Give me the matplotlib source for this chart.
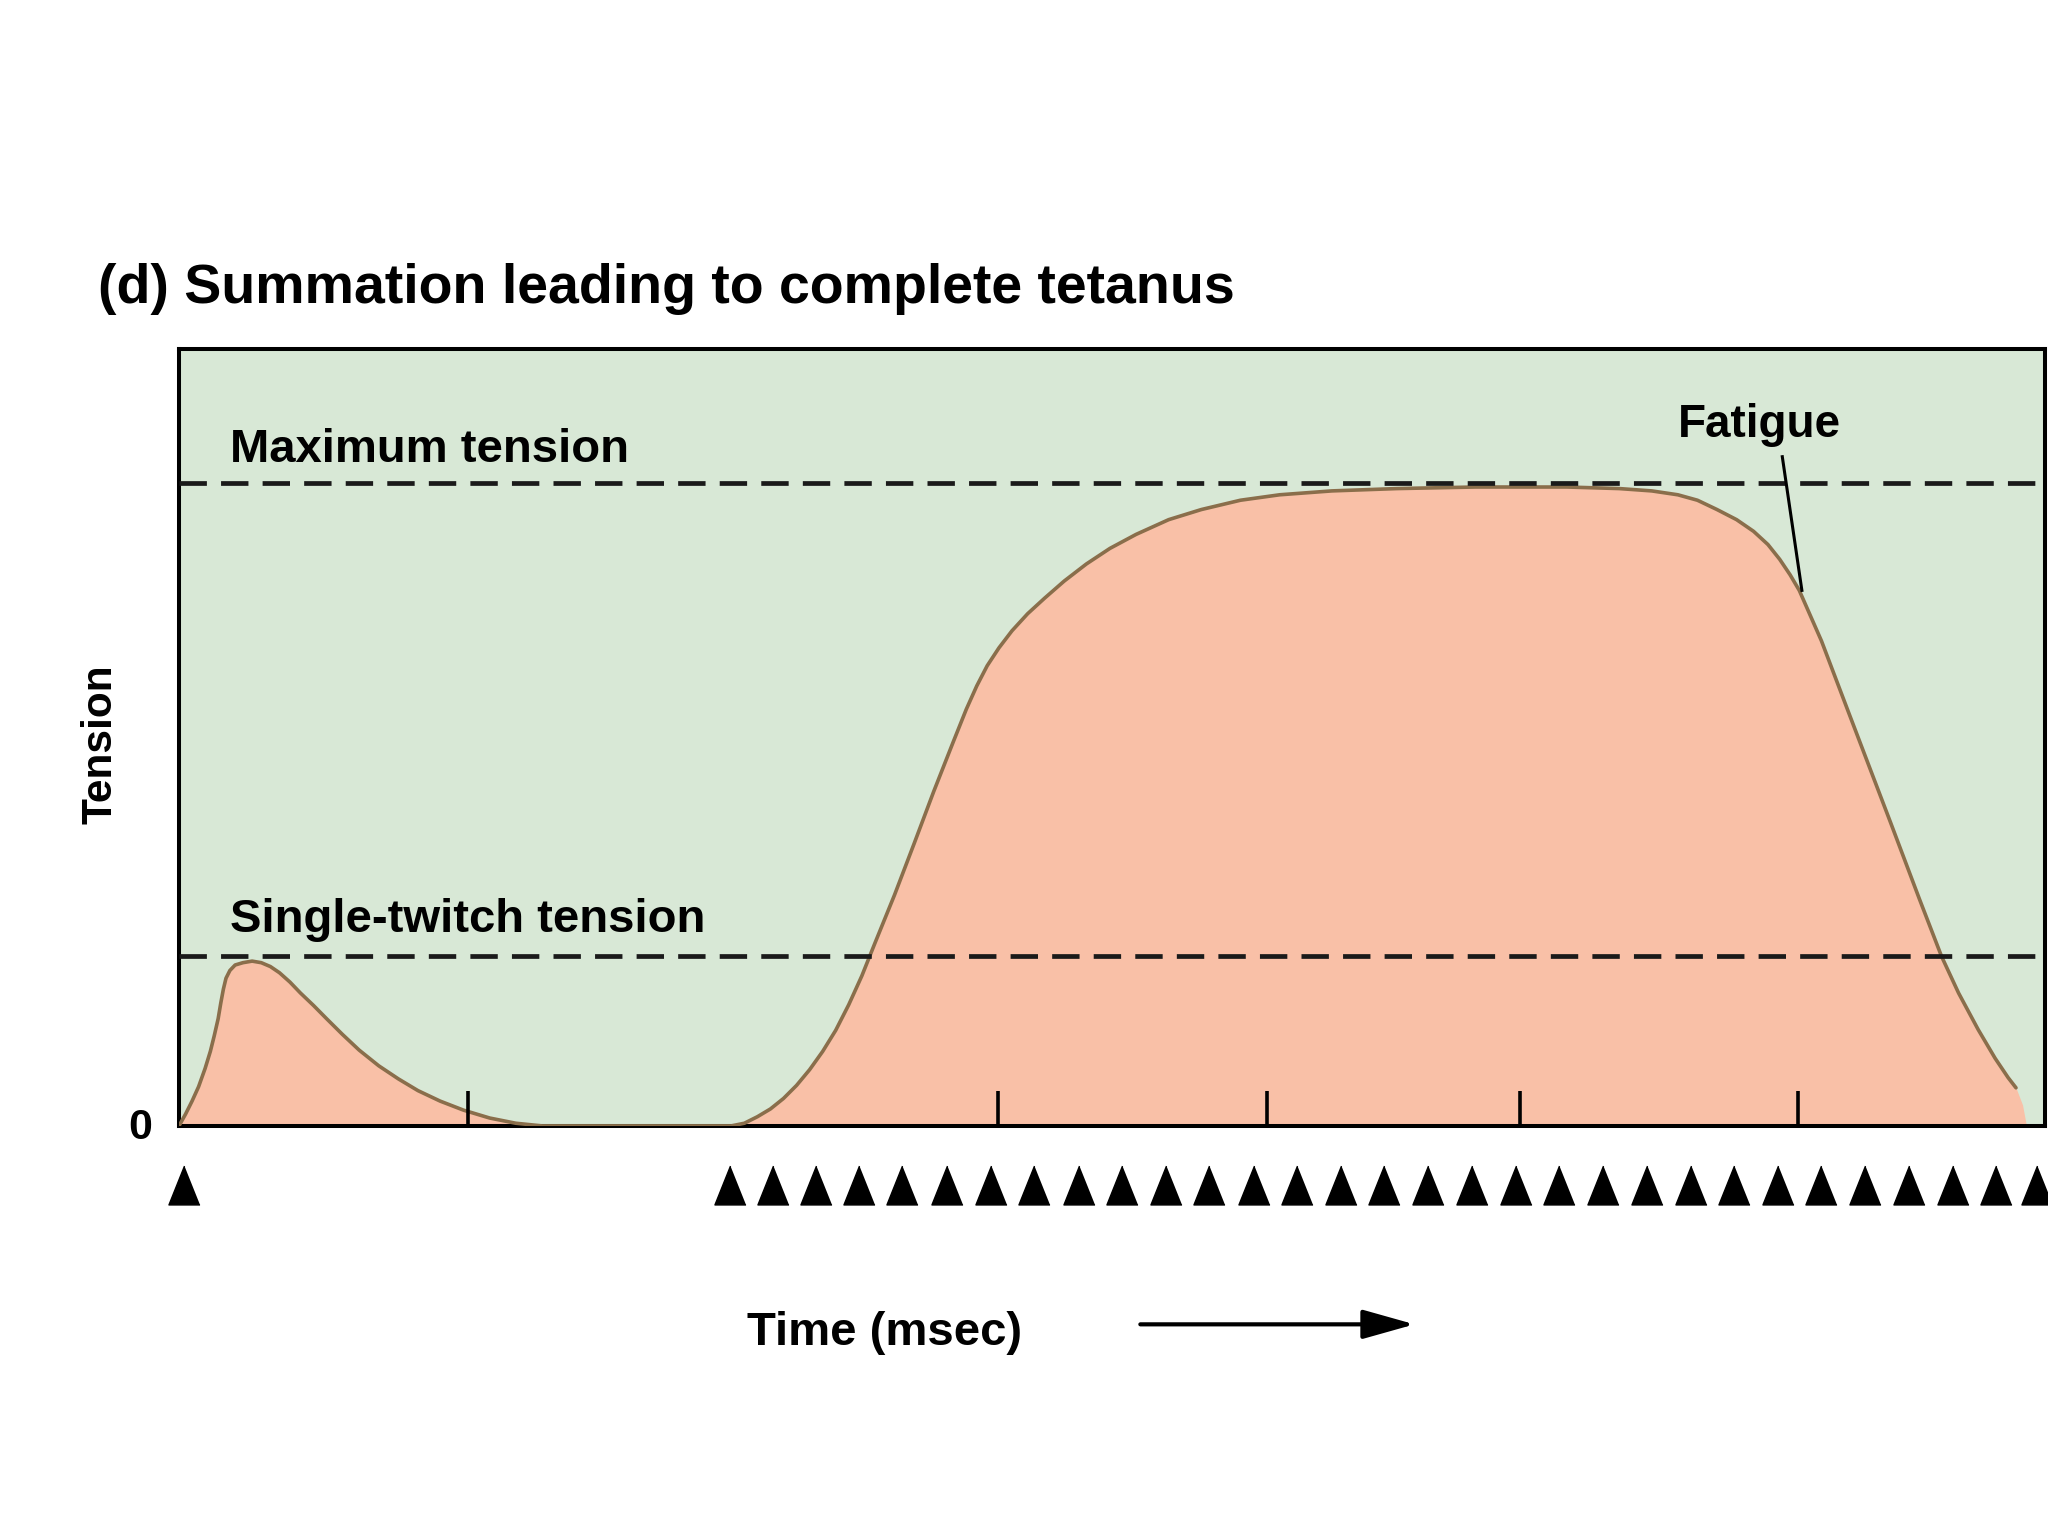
import matplotlib
matplotlib.use("Agg")
import matplotlib.pyplot as plt

plt.rcParams['font.family'] = ['Liberation Sans', 'DejaVu Sans']
plt.rcParams['font.weight'] = 'bold'

# tension trace (time in arbitrary units, tension as % of axis height)
twitch_t = [0, 0.5, 1.0, 1.5, 2.0, 2.4, 2.7, 3.0, 3.2, 3.4, 3.6, 3.9, 4.3,
            4.9, 5.6, 6.3, 7.0, 7.7, 8.5, 9.3, 10.3, 11.3, 12.5, 13.8, 15.3,
            16.8, 18.3, 20.0, 21.8, 23.8, 25.8, 27.8]
twitch_y = [0, 1.51, 3.19, 5.04, 7.39, 9.58, 11.6, 13.8, 15.8, 17.6, 19.0,
            20.0, 20.7, 21.0, 21.2, 21.0, 20.5, 19.7, 18.5, 17.1, 15.5, 13.8,
            11.8, 9.75, 7.73, 6.05, 4.54, 3.19, 2.02, 1.01, 0.34, 0]

tetanus_t = [42.3, 43.3, 44.3, 45.3, 46.3, 47.3, 48.3, 49.3, 50.3, 51.3, 52.3,
             53.3, 54.8, 56.3, 57.8, 59.3, 60.3, 61.1, 61.9, 62.8, 63.8, 65.0,
             66.3, 67.8, 69.5, 71.3, 73.3, 75.8, 78.3, 81.3, 84.3, 88.3, 93.3,
             99.3, 106.3, 110.3, 112.8, 114.8, 116.3, 117.8, 119.3, 120.6,
             121.7, 122.6, 123.4, 124.1, 125.8, 127.9, 131.1, 133.3, 135.0,
             136.3, 137.8, 139.1, 140.1, 140.7]
tetanus_y = [0, 0.34, 1.18, 2.18, 3.53, 5.21, 7.23, 9.58, 12.3, 15.6, 19.3,
             23.5, 29.7, 36.3, 43.0, 49.4, 53.6, 56.6, 59.2, 61.5, 63.7, 65.9,
             67.9, 70.1, 72.3, 74.3, 76.1, 78.0, 79.3, 80.5, 81.2, 81.7, 82.0,
             82.2, 82.2, 82.0, 81.7, 81.2, 80.5, 79.3, 78.0, 76.5, 74.8, 72.9,
             70.9, 68.9, 62.4, 53.1, 39.0, 29.2, 21.8, 17.1, 12.4, 8.7, 6.2,
             4.9]
# where the shaded area meets the baseline after the trace ends
fill_end_t = [141.2, 141.5]
fill_end_y = [2.7, 0]

max_tension = 82.7
single_twitch = 21.8

tick_times = [22.1, 62.7, 83.3, 102.7, 124.0]
single_stim = [0.4]
train_stim = [42.2, 45.5, 48.8, 52.1, 55.4, 58.8, 62.2, 65.5, 68.9, 72.2, 75.6,
              78.9, 82.3, 85.6, 89.0, 92.3, 95.7, 99.0, 102.4, 105.7, 109.1,
              112.4, 115.8, 119.1, 122.5, 125.8, 129.1, 132.5, 135.9, 139.2,
              142.3]

green = '#d8e8d6'
salmon = '#f9c0a7'
trace_col = '#8a6e4b'

fig = plt.figure(figsize=(20.48, 15.36), dpi=100)
ax = fig.add_axes([0.0874, 0.267, 0.911, 0.506])
ax.set_facecolor(green)
ax.set_xlim(0, 142.9)
ax.set_ylim(0, 100)
ax.set_xticks([])
ax.set_yticks([])
for s in ax.spines.values():
    s.set_linewidth(2.9)
    s.set_color('black')

all_t = twitch_t + tetanus_t
all_y = twitch_y + tetanus_y
ax.fill_between(all_t + fill_end_t, all_y + fill_end_y, 0, color=salmon,
                lw=0, zorder=1)
ax.plot(all_t, all_y, color=trace_col, lw=2.6, zorder=3,
        solid_capstyle='round', solid_joinstyle='round')

dash = (0, (5.8, 3.0))
ax.axhline(max_tension, color='#1a1a1a', lw=3.4, ls=dash, zorder=4)
ax.axhline(single_twitch, color='#1a1a1a', lw=3.4, ls=dash, zorder=4)

ax.vlines(tick_times, 0, 4.5, color='black', lw=2.6, zorder=5)

tri = [(0, 1), (-0.8, -1), (0.8, -1)]
ax.plot(single_stim + train_stim, [-7.6] * (len(single_stim) + len(train_stim)),
        ls='none', marker=tri, markersize=28, color='black', clip_on=False)

ax.text(3.9, 85.4, 'Maximum tension', fontsize=34, fontweight='bold',
        va='baseline', ha='left')
ax.text(3.9, 25.0, 'Single-twitch tension', fontsize=34, fontweight='bold',
        va='baseline', ha='left')
ax.text(114.8, 88.6, 'Fatigue', fontsize=33, fontweight='bold',
        va='baseline', ha='left')
ax.plot([122.8, 124.3], [86.1, 68.9], color='black', lw=2.2, zorder=6)
ax.text(-3.0, -1.7, '0', fontsize=31, fontweight='bold', va='baseline',
        ha='center', clip_on=False)

fig.text(0.0478, 0.8027, '(d) Summation leading to complete tetanus',
         fontsize=40, fontweight='bold', va='baseline', ha='left')
fig.text(0.0491, 0.5153, 'Tension', fontsize=30.5, fontweight='bold',
         rotation=90, va='center', ha='center')
fig.text(0.3648, 0.1241, 'Time (msec)', fontsize=34, fontweight='bold',
         va='baseline', ha='left')
ax.annotate('', xy=(0.6907, 0.1378), xytext=(0.5568, 0.1378),
            xycoords='figure fraction', textcoords='figure fraction',
            arrowprops=dict(arrowstyle='-|>,head_length=1.6,head_width=0.45',
                            lw=3, color='black', mutation_scale=20,
                            shrinkA=0, shrinkB=0))

fig.savefig('out.png', dpi=100)
